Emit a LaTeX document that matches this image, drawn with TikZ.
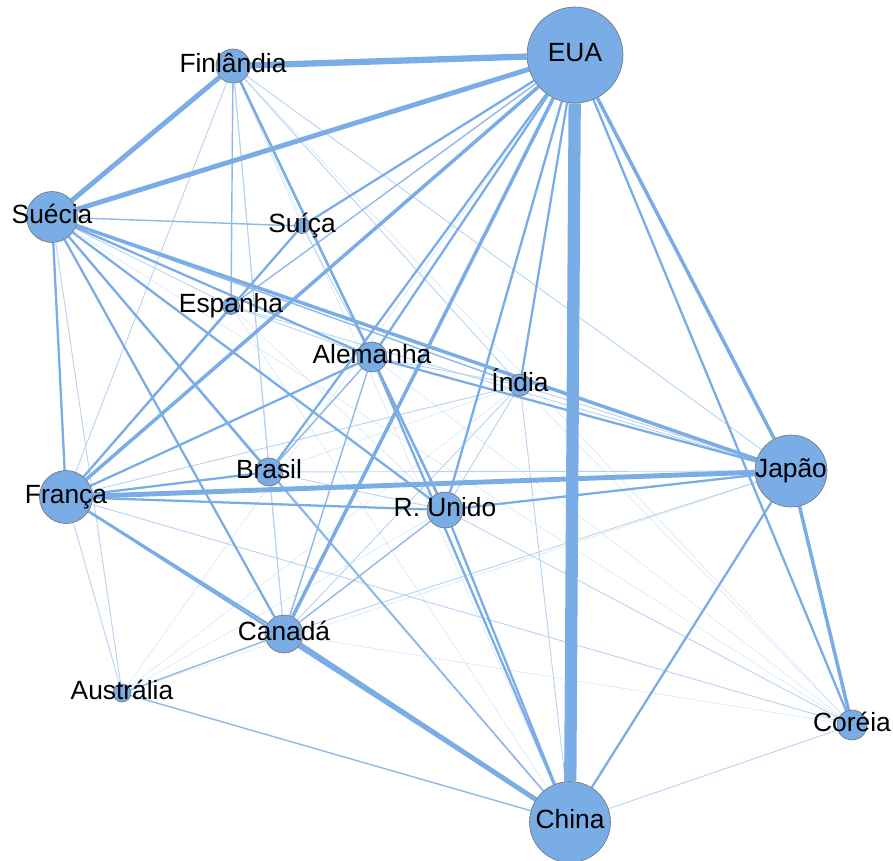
\documentclass[tikz,border=0pt]{standalone}
\usepackage{fontspec}
\setmainfont{Liberation Sans}
\usetikzlibrary{backgrounds}
\definecolor{netblue}{RGB}{122,173,229}
\definecolor{rimgray}{RGB}{115,115,115}
\begin{document}
\begin{tikzpicture}[x=0.02cm,y=-0.02cm,land/.style={circle,draw=rimgray,line width=0.35pt,fill=netblue,inner sep=0pt,minimum size=#1*0.2mm},tag/.style={font=\fontsize{15}{18}\selectfont,text height=10.5pt,text depth=3.4pt,inner sep=0pt},tieA/.style={draw=netblue!30,line width=0.35pt},tieB/.style={draw=netblue!55,line width=0.5pt},tieC/.style={draw=netblue!85,line width=0.8pt},tieD/.style={draw=netblue,line width=1.3pt},tieE/.style={draw=netblue,line width=2pt},tieF/.style={draw=netblue,line width=2.8pt},tieG/.style={draw=netblue,line width=3.6pt},tieH/.style={draw=netblue,line width=7pt}]
\useasboundingbox (0,0) rectangle (893,861);

\node[land=96,label={[tag]center:EUA}] (usa) at (575,55) {};
\node[land=34,label={[tag]center:Finlândia}] (fin) at (233,66) {};
\node[land=51,label={[tag]center:Suécia}] (swe) at (52,217) {};
\node[land=15,label={[tag]center:Suíça}] (sui) at (302,226) {};
\node[land=17,label={[tag]center:Espanha}] (esp) at (231,306) {};
\node[land=30,label={[tag]center:Alemanha}] (ale) at (372,357) {};
\node[land=22,label={[tag]center:Índia}] (ind) at (520,385) {};
\node[land=72,label={[tag]center:Japão}] (jap) at (791,471) {};
\node[land=28,label={[tag]center:Brasil}] (bra) at (269,472) {};
\node[land=53,label={[tag]center:França}] (fra) at (66,497) {};
\node[land=36,label={[tag]center:R. Unido}] (ruk) at (445,510) {};
\node[land=38,label={[tag]center:Canadá}] (can) at (284,634) {};
\node[land=18,label={[tag]center:Austrália}] (aus) at (122,693) {};
\node[land=30,label={[tag]center:Coréia}] (cor) at (852,725) {};
\node[land=81,label={[tag]center:China}] (chi) at (570,822) {};

\begin{scope}[on background layer]
\draw[tieA] (usa) -- (aus);
\draw[tieA] (fin) -- (chi);
\draw[tieA] (fin) -- (sui);
\draw[tieA] (fin) -- (cor);
\draw[tieA] (swe) -- (cor);
\draw[tieA] (ale) -- (cor);
\draw[tieA] (ruk) -- (aus);
\draw[tieA] (ruk) -- (esp);
\draw[tieA] (can) -- (cor);
\draw[tieA] (jap) -- (aus);
\draw[tieA] (chi) -- (esp);
\draw[tieA] (ind) -- (cor);
\draw[tieA] (ind) -- (aus);
\draw[tieA] (bra) -- (ind);
\draw[tieB] (fin) -- (bra);
\draw[tieB] (fin) -- (fra);
\draw[tieB] (fin) -- (can);
\draw[tieB] (fin) -- (jap);
\draw[tieB] (fin) -- (ind);
\draw[tieB] (swe) -- (esp);
\draw[tieB] (swe) -- (aus);
\draw[tieB] (fra) -- (cor);
\draw[tieB] (fra) -- (ind);
\draw[tieB] (fra) -- (aus);
\draw[tieB] (bra) -- (can);
\draw[tieB] (bra) -- (jap);
\draw[tieB] (bra) -- (ruk);
\draw[tieB] (ale) -- (ind);
\draw[tieB] (ale) -- (esp);
\draw[tieB] (ale) -- (sui);
\draw[tieB] (ruk) -- (ind);
\draw[tieB] (ruk) -- (cor);
\draw[tieB] (can) -- (ind);
\draw[tieB] (can) -- (jap);
\draw[tieB] (jap) -- (ind);
\draw[tieB] (chi) -- (cor);
\draw[tieB] (chi) -- (ind);
\draw[tieB] (esp) -- (jap);
\draw[tieC] (usa) -- (esp);
\draw[tieC] (fin) -- (esp);
\draw[tieC] (swe) -- (ind);
\draw[tieC] (swe) -- (sui);
\draw[tieC] (swe) -- (chi);
\draw[tieC] (fra) -- (esp);
\draw[tieC] (bra) -- (ale);
\draw[tieC] (bra) -- (chi);
\draw[tieC] (ale) -- (can);
\draw[tieC] (ruk) -- (can);
\draw[tieC] (can) -- (aus);
\draw[tieC] (chi) -- (aus);
\draw[tieD] (usa) -- (cor);
\draw[tieD] (usa) -- (ruk);
\draw[tieD] (usa) -- (ale);
\draw[tieD] (usa) -- (bra);
\draw[tieD] (usa) -- (ind);
\draw[tieD] (usa) -- (sui);
\draw[tieD] (fin) -- (ale);
\draw[tieD] (fin) -- (ruk);
\draw[tieD] (swe) -- (ale);
\draw[tieD] (swe) -- (ruk);
\draw[tieD] (swe) -- (bra);
\draw[tieD] (swe) -- (can);
\draw[tieD] (swe) -- (fra);
\draw[tieD] (fra) -- (ruk);
\draw[tieD] (fra) -- (ale);
\draw[tieD] (fra) -- (sui);
\draw[tieD] (fra) -- (bra);
\draw[tieD] (fra) -- (can);
\draw[tieD] (fra) -- (chi);
\draw[tieD] (ale) -- (ruk);
\draw[tieD] (ale) -- (jap);
\draw[tieD] (ale) -- (chi);
\draw[tieD] (ruk) -- (chi);
\draw[tieD] (ruk) -- (jap);
\draw[tieD] (jap) -- (chi);
\draw[tieE] (usa) -- (fra);
\draw[tieE] (usa) -- (jap);
\draw[tieE] (usa) -- (can);
\draw[tieE] (swe) -- (jap);
\draw[tieE] (jap) -- (cor);
\draw[tieF] (usa) -- (swe);
\draw[tieF] (fin) -- (swe);
\draw[tieF] (fra) -- (jap);
\draw[tieF] (can) -- (chi);
\draw[tieG] (usa) -- (fin);
\draw[tieH] (usa) -- (chi);
\end{scope}
\end{tikzpicture}
\end{document}
